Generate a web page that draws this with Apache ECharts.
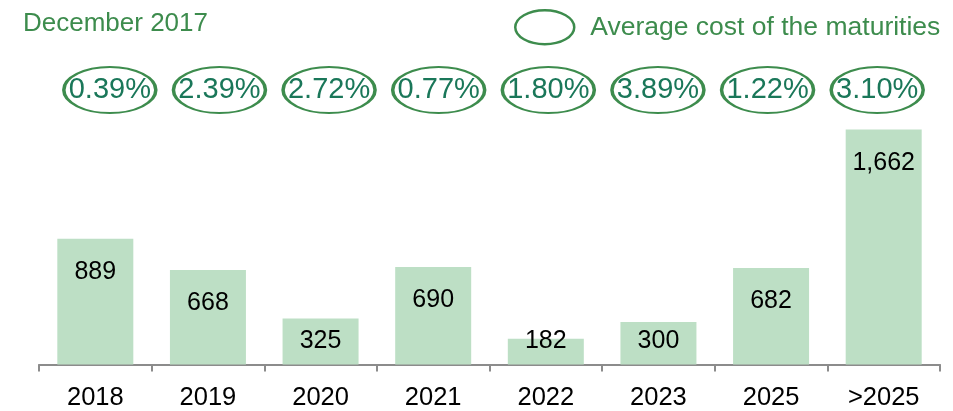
<!DOCTYPE html>
<html>
<head>
<meta charset="utf-8">
<script src="https://cdn.jsdelivr.net/npm/echarts@6/dist/echarts.min.js"></script>
<style>
  html, body { margin: 0; padding: 0; background: #ffffff; }
  #chart { width: 953px; height: 411px; }
</style>
</head>
<body>
<div id="chart"></div>
<script>
// Debt maturities by year (amounts) and the average cost of each maturity bucket
const categories = ['2018', '2019', '2020', '2021', '2022', '2023', '2025', '>2025'];
const maturities = [889, 668, 325, 690, 182, 300, 682, 1662];
const averageCost = [0.39, 2.39, 2.72, 0.77, 1.80, 3.89, 1.22, 3.10];

const FONT = "'Liberation Sans', Arial, Helvetica, sans-serif";
const GREEN = '#3d8c4d';
const COST_TEXT = '#1a7759';

const chart = echarts.init(document.getElementById('chart'), null, { renderer: 'canvas' });

// Short bars get their value label pinned near the base instead of under the top edge
const barData = maturities.map(function (v) {
  const short = v < 400;
  return {
    value: v,
    label: short
      ? { position: 'insideBottom', distance: 11 }
      : { position: 'insideTop', distance: 21 }
  };
});

// Flat ellipse used as the legend marker
const ELLIPSE_ICON = 'path://M0,17A29.5,17,0,1,1,59,17A29.5,17,0,1,1,0,17Z';

const option = {
  animation: false,
  backgroundColor: '#ffffff',
  title: {
    text: 'December 2017',
    left: 23,
    top: 11,
    padding: 0,
    textStyle: { fontFamily: FONT, fontSize: 26, fontWeight: 'normal', color: GREEN }
  },
  legend: {
    data: [{ name: 'Average cost of the maturities', icon: ELLIPSE_ICON }],
    left: 514,
    top: 9,
    padding: 0,
    itemWidth: 59,
    itemHeight: 34,
    selectedMode: false,
    itemStyle: { color: 'rgba(255,255,255,0)', borderColor: GREEN, borderWidth: 2.5, opacity: 1 },
    textStyle: { fontFamily: FONT, fontSize: 26.5, color: GREEN, padding: [0, 0, 0, 11] }
  },
  grid: [
    { left: 39, right: 13, top: 110, bottom: 44 },
    { left: 55, right: 21, top: 66, height: 48 }
  ],
  xAxis: [
    {
      type: 'category',
      gridIndex: 0,
      data: categories,
      axisLine: { lineStyle: { color: '#8c8c8c', width: 2 } },
      axisTick: { show: true, length: 7, lineStyle: { color: '#8c8c8c', width: 2 } },
      axisLabel: { fontFamily: FONT, fontSize: 25.5, color: '#000000', margin: 21, lineHeight: 25 }
    },
    {
      type: 'category',
      gridIndex: 1,
      data: categories,
      show: false
    }
  ],
  yAxis: [
    { type: 'value', gridIndex: 0, min: 0, max: 1800, show: false, splitLine: { show: false } },
    { type: 'value', gridIndex: 1, min: -1, max: 1, show: false, splitLine: { show: false } }
  ],
  series: [
    {
      name: 'Maturities',
      type: 'bar',
      xAxisIndex: 0,
      yAxisIndex: 0,
      barWidth: 76,
      itemStyle: { color: '#bddfc5' },
      label: {
        show: true,
        fontFamily: FONT,
        fontSize: 25,
        lineHeight: 25,
        color: '#000000',
        formatter: function (p) { return p.value.toLocaleString('en-US'); }
      },
      emphasis: { disabled: true },
      data: barData
    },
    {
      name: 'Average cost of the maturities',
      type: 'scatter',
      xAxisIndex: 1,
      yAxisIndex: 1,
      symbol: 'circle',
      symbolSize: [92, 46],
      itemStyle: { color: 'rgba(255,255,255,0)', borderColor: GREEN, borderWidth: 2.5, opacity: 1 },
      label: {
        show: true,
        position: 'inside',
        fontFamily: FONT,
        fontSize: 29,
        color: COST_TEXT,
        formatter: function (p) { return averageCost[p.dataIndex].toFixed(2) + '%'; }
      },
      emphasis: { disabled: true },
      data: averageCost.map(function (c, i) { return [i, 0]; })
    }
  ]
};

chart.setOption(option);
</script>
</body>
</html>
